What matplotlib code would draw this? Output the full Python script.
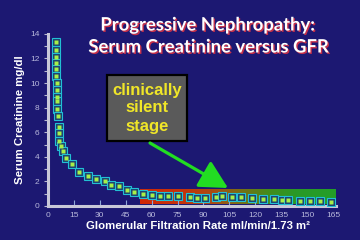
import numpy as np
import matplotlib
matplotlib.use('Agg')
import matplotlib.pyplot as plt
from matplotlib.colors import LinearSegmentedColormap
from matplotlib.patches import Rectangle, FancyArrowPatch
import matplotlib.patheffects as pe

# ---- data ----
gfr = [4.6, 4.6, 4.6, 4.6, 4.6, 4.6, 5.0, 5.0, 5.2, 5.2, 5.2, 5.8,
       6.4, 6.4, 6.4, 7.5, 8.7, 10.4, 13.9, 18, 23, 28, 33, 36.5, 41,
       46, 50, 55, 60, 65, 69.5, 75, 82, 86, 91, 97, 101, 106.5, 112,
       118, 124.5, 131, 135.5, 139, 146, 152, 157.5, 164]
creat = [13.3, 12.7, 12.1, 11.6, 11.1, 10.6, 10.0, 9.4, 8.9, 8.5, 7.9, 7.3,
         6.4, 5.9, 5.3, 4.9, 4.5, 3.9, 3.4, 2.8, 2.4, 2.2, 2.0, 1.7, 1.6,
         1.3, 1.1, 0.95, 0.9, 0.8, 0.8, 0.85, 0.73, 0.65, 0.65, 0.73, 0.8, 0.73, 0.73,
         0.65, 0.57, 0.57, 0.49, 0.49, 0.41, 0.41, 0.41, 0.33]
x_ticks = [0, 15, 30, 45, 60, 75, 90, 105, 120, 135, 150, 165]
y_ticks = [0, 2, 4, 6, 8, 10, 12, 14]
y_minor = [1, 3, 5, 7, 9, 11, 13]
band_gfr = [53, 166]
band_creat = [0.15, 1.35]

title_lines = ['Progressive Nephropathy:', 'Serum Creatinine versus GFR']
box_lines = ['clinically', 'silent', 'stage']
xlabel = 'Glomerular Filtration Rate ml/min/1.73 m\u00b2'
ylabel = 'Serum Creatinine mg/dl'

BG = '#1c1872'
W, H = 360, 240
fig = plt.figure(figsize=(3.6, 2.4), dpi=100, facecolor=BG)
ax = fig.add_axes([48 / W, 34 / H, 288.4 / W, 172.2 / H])
ax.set_facecolor('none')
ax.set_xlim(0, 167)
ax.set_ylim(0, 14)

# gradient band
cmap = LinearSegmentedColormap.from_list('band', [
    (0.0, (0.82, 0.15, 0.02)), (0.22, (0.78, 0.20, 0.04)),
    (0.38, (0.66, 0.30, 0.07)), (0.52, (0.46, 0.44, 0.08)),
    (0.66, (0.26, 0.55, 0.11)), (0.80, (0.16, 0.60, 0.15)),
    (1.0, (0.14, 0.62, 0.16))])
grad = np.linspace(0, 1, 256).reshape(1, -1)
ax.imshow(grad, extent=[band_gfr[0], band_gfr[1], band_creat[0], band_creat[1]],
          aspect='auto', cmap=cmap, zorder=1, interpolation='bilinear')

ax.plot(gfr, creat, ls='none', marker='s', ms=5.4, mfc='#1a3f70', mec='#22c0d4',
        mew=0.8, zorder=3)
ax.plot(gfr, creat, ls='none', marker='s', ms=2.3, mfc='#a8f048', mec='none',
        zorder=4)

for s in ['top', 'right']:
    ax.spines[s].set_visible(False)
for s in ['left', 'bottom']:
    ax.spines[s].set_color('#c8c8d8')
    ax.spines[s].set_linewidth(2.2)
    ax.spines[s].set_zorder(2)
ax.spines['left'].set_bounds(0, 14)

tick_color = '#b8b8dc'
ax.set_xticks(x_ticks)
ax.set_xticklabels([str(v) for v in x_ticks])
ax.set_yticks(y_ticks)
ax.set_yticklabels([str(v) for v in y_ticks])
ax.set_yticks(y_minor, minor=True)
ax.tick_params(axis='x', direction='in', length=4, width=0.8, color='#8fa8d8',
               labelcolor=tick_color, labelsize=6, pad=4)
ax.tick_params(axis='y', which='both', direction='out', length=3, width=0.8,
               color='#b8b8d0', labelcolor=tick_color, labelsize=6, pad=3)
for lab in ax.get_xticklabels() + ax.get_yticklabels():
    lab.set_family('Liberation Sans')

# axis labels
fig.text(20 / W, 1 - 120 / H, ylabel, rotation=90, ha='center', va='center',
         color='white', fontsize=8.2, fontweight='bold', family='Liberation Sans')
fig.text(198 / W, 1 - 226 / H, xlabel, ha='center', va='center',
         color='white', fontsize=8.2, fontweight='bold', family='Liberation Sans')

# title
shadow = [pe.withSimplePatchShadow(offset=(1.0, -1.0), shadow_rgbFace='#c83048', alpha=1.0)]
fig.text(208 / W, 1 - 25 / H, title_lines[0], ha='center', va='center',
         color='white', fontsize=13.3, fontweight='bold', family='Lato',
         path_effects=shadow)
fig.text(209 / W, 1 - 47 / H, title_lines[1], ha='center', va='center',
         color='white', fontsize=13.3, fontweight='bold', family='Lato',
         path_effects=shadow)

# box
box = Rectangle((107 / W, 1 - 141 / H), 80 / W, 66 / H, transform=fig.transFigure,
                facecolor='#5a5a5a', edgecolor='black', linewidth=1.6, zorder=5)
fig.add_artist(box)
for yy, t in zip([90, 108, 127], box_lines):
    fig.text(147 / W, 1 - yy / H, t, ha='center', va='center', color='#f0e628',
             fontsize=12, fontweight='bold', family='Liberation Sans', zorder=6)

# arrow
arr = FancyArrowPatch((150 / W, 1 - 143 / H), (228 / W, 1 - 188 / H),
                      transform=fig.transFigure,
                      arrowstyle='-|>,head_length=0.95,head_width=0.5',
                      mutation_scale=18, color='#22dd22', linewidth=2.3,
                      shrinkA=0, shrinkB=0, zorder=6)
fig.add_artist(arr)

fig.savefig('out.png', dpi=100, facecolor=BG)
